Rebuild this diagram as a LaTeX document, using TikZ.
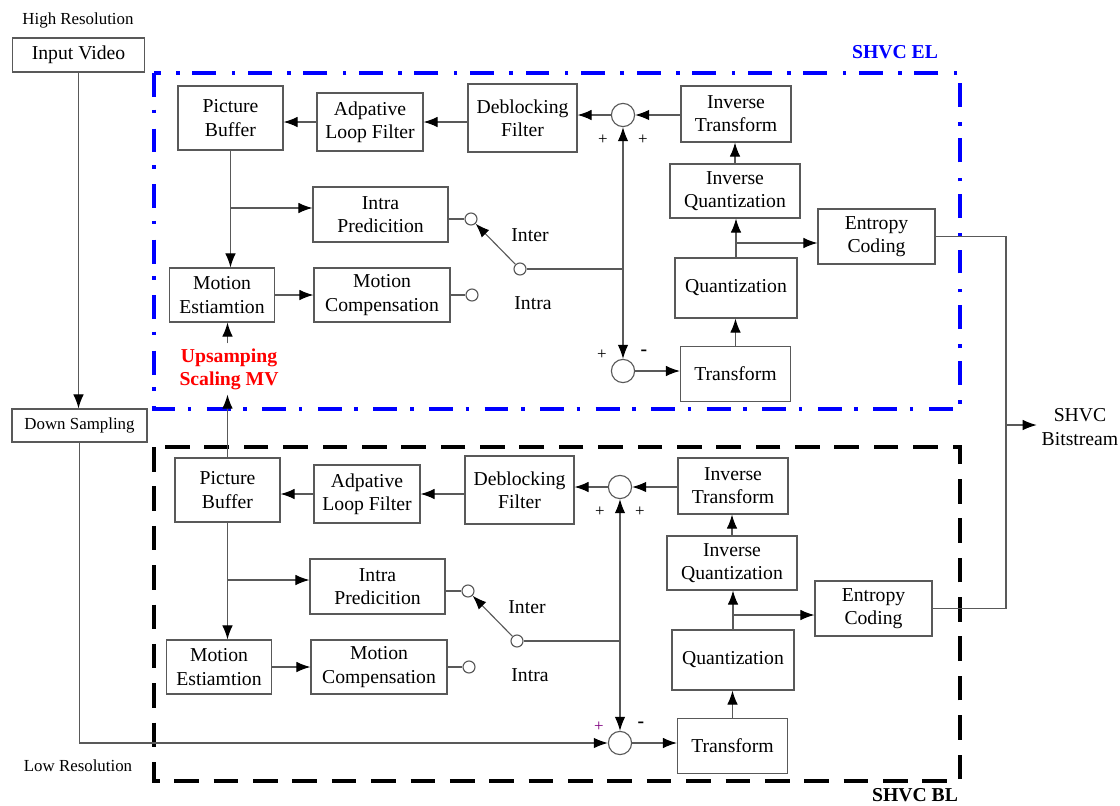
\documentclass[tikz,border=0pt]{standalone}
\usepackage{fontspec}
\setmainfont{Liberation Serif}
\usetikzlibrary{arrows.meta,calc}

\tikzset{
  blk/.style={draw=black!65, line width=0.8pt, fill=white, align=center, inner sep=1pt},
  sz/.style 2 args={minimum width=#1*0.025cm, minimum height=#2*0.025cm},
  sum/.style={draw=black!65, line width=0.8pt, circle, fill=white, minimum size=0.58cm, inner sep=0pt},
  tap/.style={draw=black!65, line width=0.8pt, circle, fill=white, minimum size=0.3cm, inner sep=0pt},
  wire/.style={draw=black!65, line width=0.8pt},
  arr/.style={wire, -{Latex[length=10pt,width=7.5pt,color=black]}},
  sml/.style={font=\fontsize{12}{14}\selectfont},
  sgn/.style={font=\fontsize{12}{14}\selectfont, inner sep=0pt},
}

\begin{document}
\begin{tikzpicture}[x=0.025cm, y=-0.025cm, font=\fontsize{14}{16.5}\selectfont]
  \useasboundingbox (0,0) rectangle (1120,805);

  % layer frames
  \draw[blue, line width=2.3pt, dash pattern=on 17pt off 9pt on 2.5pt off 11pt] (154,73) rectangle (960,409);
  \draw[black, line width=2.5pt, dash pattern=on 17.5pt off 10.5pt] (154,447) rectangle (960,781);
  \node[text=blue, font=\fontsize{14}{16.5}\selectfont\bfseries] at (895,52) {SHVC EL};
  \node[font=\fontsize{14}{16.5}\selectfont\bfseries, inner sep=1pt] at (915,795) {SHVC BL};

  % enhancement and base layer share one layout
  \foreach \l/\dx/\dy/\pc in {E/0/0/black, B/-3/372/violet}{
  \begin{scope}[shift={(\dx,\dy)}]
    \node[blk,sz={105}{64}] (pb\l) at (230.5,118) {Picture\\Buffer};
    \node[blk,sz={106}{58}] (al\l) at (370,122) {Adpative\\Loop Filter};
    \node[blk,sz={109}{68}] (db\l) at (522.5,118) {Deblocking\\Filter};
    \node[sum] (sm\l) at (623,115) {};
    \node[blk,sz={110}{56}] (it\l) at (736,114) {Inverse\\Transform};
    \node[blk,sz={130}{54}] (iq\l) at (735,191) {Inverse\\Quantization};
    \node[blk,sz={117}{55}] (ec\l) at (876.5,236.5) {Entropy\\Coding};
    \node[blk,sz={122}{60}] (q\l) at (736,288) {Quantization};
    \node[blk,sz={110}{55}] (t\l) at (735.5,374) {Transform};
    \node[sum] (sb\l) at (623,371) {};
    \node[blk,sz={135}{55}] (ip\l) at (380.5,214.5) {Intra\\Predicition};
    \node[blk,sz={105}{54}] (me\l) at (222,295) {Motion\\Estiamtion};
    \node[blk,sz={136}{54}] (mc\l) at (382,295) {Motion\\Compensation};
    \node[tap] (ci\l) at (471,219) {};
    \node[tap] (cm\l) at (472,295) {};
    \node[tap] (pv\l) at (520,269) {};
    \node at (530,235) {Inter};
    \node at (533,303) {Intra};
    \node[sgn] at (603,140) {+};
    \node[sgn] at (643,140) {+};
    \node[sgn, text=\pc] at (602,355) {+};
    \node[inner sep=0pt] at (644,353) {\textbf{-}};

    \coordinate (br\l) at (736,243);
    \coordinate (bp\l) at (pb\l.south |- 0,208);
    \coordinate (jn\l) at (sm\l |- pv\l);

    \draw[arr] (it\l.west |- sm\l) -- (sm\l);
    \draw[arr] (sm\l) -- (db\l.east |- sm\l);
    \draw[arr] (db\l.west |- al\l) -- (al\l);
    \draw[arr] (al\l) -- (pb\l.east |- al\l);
    \draw[arr] (iq\l.north) -- (iq\l.north |- it\l.south);
    \draw[arr] (q\l.north) -- (q\l.north |- iq\l.south);
    \draw[arr] (br\l) -- (ec\l.west |- br\l);
    \draw[arr] (t\l.north) -- (t\l.north |- q\l.south);
    \draw[arr] (sb\l) -- (t\l.west |- sb\l);
    \draw[arr] (pb\l.south) -- (pb\l.south |- me\l.north);
    \draw[arr] (bp\l) -- (ip\l.west |- bp\l);
    \draw[arr] (me\l) -- (mc\l);
    \draw[wire] (ip\l.east |- ci\l) -- (ci\l);
    \draw[wire] (mc\l) -- (cm\l);
    \draw[arr] (pv\l) -- (ci\l);
    \draw[wire] (pv\l) -- (jn\l);
    \draw[arr] (jn\l) -- (sm\l);
    \draw[arr] (jn\l) -- (sb\l);
  \end{scope}}

  % input side
  \node[sml] at (78,20) {High Resolution};
  \node[blk,sz={132}{34}] (iv) at (78.5,55) {Input Video};
  \node[blk,sml,sz={135}{33}] (ds) at (79.5,425.5) {Down Sampling};
  \node[sml] at (78,766) {Low Resolution};
  \coordinate (lo) at (ds.south |- sbB);
  \draw[arr] (iv.south) -- (iv.south |- ds.north);
  \draw[arr] (ds.south) -- (lo) -- (sbB);

  % inter-layer prediction
  \node[text=red, align=center, font=\fontsize{14}{16.5}\selectfont\bfseries] (up) at (229,369) {Upsamping\\Scaling MV};
  \draw[arr] (pbB.north) -- (pbB.north |- up.south);
  \draw[arr] (pbB.north |- up.north) -- (pbB.north |- meE.south);

  % output
  \node[align=center] (out) at (1080,427) {SHVC\\Bitstream};
  \coordinate (bs) at (1006,425);
  \draw[wire] (ecE.east) -- (ecE.east -| bs) -- (ecB.east -| bs) -- (ecB.east);
  \draw[arr] (bs) -- (bs -| out.west);
\end{tikzpicture}
\end{document}
